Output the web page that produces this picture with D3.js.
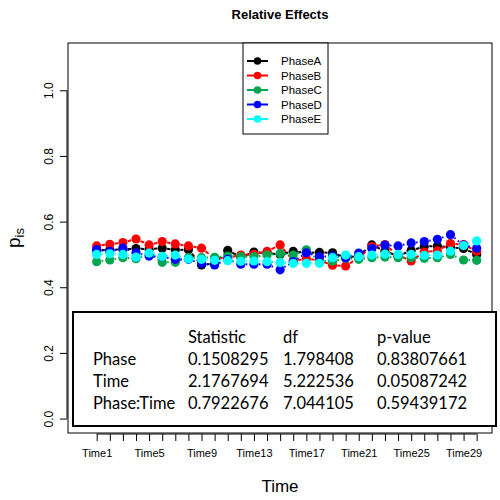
<!DOCTYPE html>
<html>
<head>
<meta charset="utf-8">
<script src="https://cdn.jsdelivr.net/npm/d3@7"></script>
<style>
  body { margin: 0; background: #fff; }
  svg text { font-family: "Liberation Sans", Arial, sans-serif; }
</style>
</head>
<body>
<svg width="500" height="500"></svg>
<script>
var svg = d3.select('svg')

// data
var times = d3.range(1, 31).map(i => 'Time' + i)
var phaseNames = ['PhaseA', 'PhaseB', 'PhaseC', 'PhaseD', 'PhaseE']
var colors = ['#000000', '#FF0000', '#00A550', '#0000FF', '#00FFFF']

var phaseA = [0.512, 0.514, 0.515, 0.518, 0.516, 0.519, 0.514, 0.514, 0.468, 0.472,
  0.512, 0.492, 0.507, 0.504, 0.500, 0.509, 0.505, 0.506, 0.505, 0.490,
  0.496, 0.529, 0.510, 0.495, 0.512, 0.524, 0.526, 0.522, 0.518, 0.500]
var phaseB = [0.526, 0.531, 0.536, 0.547, 0.529, 0.539, 0.532, 0.526, 0.519, 0.488,
  0.490, 0.498, 0.500, 0.509, 0.529, 0.480, 0.487, 0.482, 0.467, 0.465,
  0.490, 0.524, 0.530, 0.498, 0.480, 0.507, 0.511, 0.533, 0.530, 0.510]
var phaseC = [0.478, 0.483, 0.490, 0.487, 0.500, 0.476, 0.476, 0.490, 0.490, 0.491,
  0.495, 0.493, 0.493, 0.498, 0.503, 0.498, 0.514, 0.480, 0.480, 0.488,
  0.485, 0.490, 0.492, 0.490, 0.490, 0.488, 0.490, 0.500, 0.483, 0.482]
var phaseD = [0.515, 0.509, 0.519, 0.505, 0.495, 0.493, 0.485, 0.485, 0.472, 0.468,
  0.485, 0.470, 0.470, 0.470, 0.453, 0.478, 0.505, 0.493, 0.495, 0.490,
  0.504, 0.518, 0.528, 0.526, 0.535, 0.539, 0.546, 0.560, 0.528, 0.519]
var phaseE = [0.500, 0.502, 0.500, 0.492, 0.504, 0.494, 0.498, 0.486, 0.485, 0.482,
  0.481, 0.479, 0.480, 0.478, 0.475, 0.473, 0.473, 0.473, 0.490, 0.498,
  0.493, 0.498, 0.501, 0.500, 0.500, 0.497, 0.498, 0.510, 0.527, 0.541]
var series = [phaseA, phaseB, phaseC, phaseD, phaseE]
var dashes = ['4,4', '4,4', '1.5,3', '1.5,3', '1,3,4,3']

var yTicks = [0, 0.2, 0.4, 0.6, 0.8, 1.0]

var statHeader = ['Statistic', 'df', 'p-value']
var statRows = ['Phase', 'Time', 'Phase:Time']
var statValues = [
  ['0.1508295', '1.798408', '0.83807661'],
  ['2.1767694', '5.222536', '0.05087242'],
  ['0.7922676', '7.044105', '0.59439172']
]

// plot region (window.top is read-only, so no plain "top")
var pLeft = 68, pRight = 492, pTop = 43, pBottom = 433

var x = d3.scaleLinear().domain([1 - 2.19, 30 + 1.17]).range([pLeft, pRight])
var y = d3.scaleLinear().domain([-0.044, 1.144]).range([pBottom, pTop])

svg.append('text')
  .attr('x', (pLeft + pRight) / 2).attr('y', 19)
  .attr('text-anchor', 'middle')
  .style('font-weight', 'bold').style('font-size', '13px')
  .text('Relative Effects')

// y axis
var yAxis = d3.axisLeft(y).tickValues(yTicks).tickSize(7).tickFormat(d3.format('.1f'))
var gy = svg.append('g').attr('transform', 'translate(' + (pLeft - 1) + ',0)').call(yAxis)
gy.select('.domain').remove()
gy.append('path').attr('d', 'M0,' + y(0) + 'V' + y(1)).attr('stroke', '#000')
gy.selectAll('.tick text')
  .attr('transform', 'rotate(-90)')
  .attr('x', 0).attr('y', -14).attr('dy', 0)
  .attr('text-anchor', 'middle')
  .style('font-size', '12px')

// x axis
var xAxis = d3.axisBottom(x).tickValues(d3.range(1, 31)).tickSize(7)
  .tickFormat(d => (d - 1) % 4 === 0 ? times[d - 1] : '')
var gx = svg.append('g').attr('transform', 'translate(0,' + (pBottom + 1) + ')').call(xAxis)
gx.select('.domain').remove()
gx.append('path').attr('d', 'M' + x(1) + ',0H' + x(30)).attr('stroke', '#000')
gx.selectAll('.tick text').attr('y', 23).attr('dy', 0).style('font-size', '11px')

// box
svg.append('rect')
  .attr('x', pLeft).attr('y', pTop)
  .attr('width', pRight - pLeft).attr('height', pBottom - pTop)
  .attr('fill', 'none').attr('stroke', '#000')

// axis titles
svg.append('text')
  .attr('x', (pLeft + pRight) / 2).attr('y', 492)
  .attr('text-anchor', 'middle').style('font-size', '17px')
  .text('Time')

var yl = svg.append('text')
  .attr('transform', 'translate(20,' + ((pTop + pBottom) / 2) + ') rotate(-90)')
  .attr('text-anchor', 'middle').style('font-size', '19px')
yl.append('tspan').text('p')
yl.append('tspan').attr('dy', 4).style('font-size', '13px').text('is')

// series: lines with gaps round the points, then points
var gap = 5
series.forEach((vals, si) => {
  var g = svg.append('g')
  for (var i = 0; i < vals.length - 1; i++) {
    var x1 = x(i + 1), y1 = y(vals[i]), x2 = x(i + 2), y2 = y(vals[i + 1])
    var len = Math.hypot(x2 - x1, y2 - y1)
    if (len <= 2 * gap) continue
    var ux = (x2 - x1) / len, uy = (y2 - y1) / len
    g.append('line')
      .attr('x1', x1 + ux * gap).attr('y1', y1 + uy * gap)
      .attr('x2', x2 - ux * gap).attr('y2', y2 - uy * gap)
      .attr('stroke', colors[si]).attr('stroke-width', 2)
      .attr('stroke-dasharray', dashes[si])
  }
})
series.forEach((vals, si) => {
  svg.append('g').selectAll('circle')
    .data(vals)
    .join('circle')
    .attr('cx', (d, i) => x(i + 1))
    .attr('cy', d => y(d))
    .attr('r', 4.6)
    .attr('fill', colors[si])
})

// legend
var lg = svg.append('g')
lg.append('rect')
  .attr('x', 243).attr('y', pTop).attr('width', 85).attr('height', 134 - pTop)
  .attr('fill', '#fff').attr('stroke', '#000')
phaseNames.forEach((name, i) => {
  var ly = 61 + i * 14.5
  lg.append('line').attr('x1', 247).attr('x2', 268).attr('y1', ly).attr('y2', ly)
    .attr('stroke', colors[i]).attr('stroke-width', 2)
  lg.append('circle').attr('cx', 257.5).attr('cy', ly).attr('r', 3.8).attr('fill', colors[i])
  lg.append('text').attr('x', 281).attr('y', ly).attr('dy', '0.35em')
    .style('font-size', '11.5px').text(name)
})

// statistics table
var tb = svg.append('g')
tb.append('rect')
  .attr('x', 73).attr('y', 312).attr('width', 423).attr('height', 114)
  .attr('fill', '#fff').attr('stroke', '#000').attr('stroke-width', 2)
var colX = [188, 283, 377]
var rowY = [337, 359, 381, 403]
var tstyle = sel => sel.style('font-family', 'Lato, "Open Sans", sans-serif').style('font-size', '16.5px')
statHeader.forEach((h, j) => {
  tb.append('text').attr('x', colX[j]).attr('y', rowY[0]).attr('dy', '0.35em').call(tstyle).text(h)
})
statRows.forEach((r, i) => {
  tb.append('text').attr('x', 93).attr('y', rowY[i + 1]).attr('dy', '0.35em').call(tstyle).text(r)
  statValues[i].forEach((v, j) => {
    tb.append('text').attr('x', colX[j]).attr('y', rowY[i + 1]).attr('dy', '0.35em').call(tstyle).text(v)
  })
})
</script>
</body>
</html>
